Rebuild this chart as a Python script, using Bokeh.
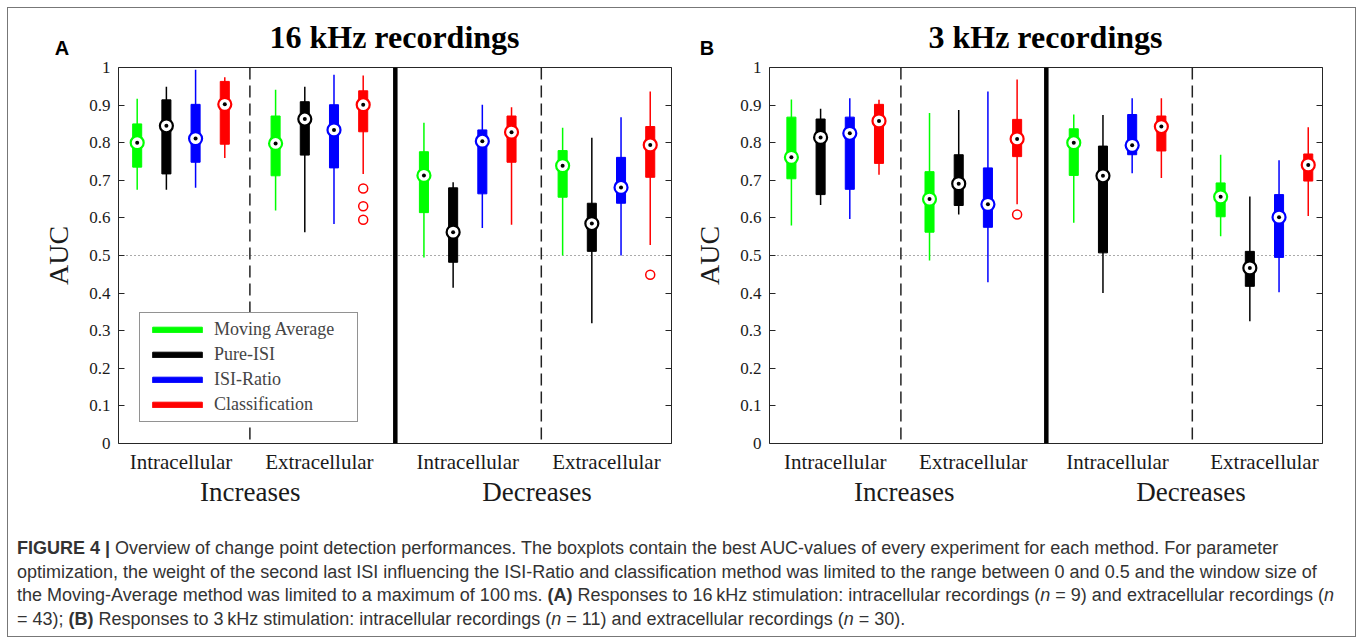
from bokeh.plotting import figure
from bokeh.models import (Range1d, LinearAxis, FixedTicker, CustomJSTickFormatter,
                          Span, Legend, LegendItem, Div, ColumnDataSource)
from bokeh.layouts import row, column
from bokeh.embed import file_html
from bokeh.resources import INLINE

# ---------------- data ----------------
panel_titles = ["16 kHz recordings", "3 kHz recordings"]
panel_letters = ["A", "B"]
methods = ["Moving Average", "Pure-ISI", "ISI-Ratio", "Classification"]
colors = ["#00ff00", "#000000", "#0000ff", "#ff0000"]
group_labels = ["Intracellular", "Extracellular", "Intracellular", "Extracellular"]
condition_labels = ["Increases", "Decreases"]
y_ticks = [0, 0.1, 0.2, 0.3, 0.4, 0.5, 0.6, 0.7, 0.8, 0.9, 1]

# order: group (Intra-Inc, Extra-Inc, Intra-Dec, Extra-Dec) x method
A_whisker_hi = [0.917, 0.949, 0.994, 0.974, 0.941, 0.949, 0.981, 0.979,
                0.853, 0.695, 0.901, 0.894, 0.840, 0.813, 0.868, 0.936]
A_q3 = [0.850, 0.914, 0.902, 0.963, 0.871, 0.909, 0.901, 0.938,
        0.776, 0.680, 0.834, 0.871, 0.779, 0.639, 0.761, 0.843]
A_median = [0.800, 0.845, 0.811, 0.902, 0.798, 0.863, 0.834, 0.901,
            0.713, 0.562, 0.804, 0.828, 0.739, 0.585, 0.681, 0.794]
A_q1 = [0.735, 0.717, 0.748, 0.796, 0.712, 0.767, 0.733, 0.829,
        0.614, 0.482, 0.664, 0.748, 0.655, 0.511, 0.639, 0.708]
A_whisker_lo = [0.675, 0.675, 0.680, 0.759, 0.620, 0.562, 0.584, 0.717,
                0.495, 0.414, 0.573, 0.582, 0.500, 0.320, 0.500, 0.528]
A_outlier_box = [7, 7, 7, 15]
A_outlier_val = [0.678, 0.631, 0.595, 0.449]

B_whisker_hi = [0.915, 0.890, 0.918, 0.914, 0.879, 0.887, 0.936, 0.968,
                0.875, 0.874, 0.918, 0.918, 0.768, 0.657, 0.753, 0.841]
B_q3 = [0.868, 0.863, 0.868, 0.902, 0.723, 0.768, 0.733, 0.862,
        0.837, 0.791, 0.875, 0.871, 0.693, 0.511, 0.662, 0.770]
B_median = [0.761, 0.814, 0.825, 0.858, 0.650, 0.691, 0.636, 0.810,
            0.800, 0.712, 0.793, 0.843, 0.656, 0.467, 0.602, 0.741]
B_q1 = [0.704, 0.662, 0.676, 0.745, 0.562, 0.633, 0.575, 0.763,
        0.713, 0.507, 0.768, 0.778, 0.603, 0.418, 0.495, 0.698]
B_whisker_lo = [0.580, 0.634, 0.597, 0.715, 0.487, 0.609, 0.429, 0.636,
                0.587, 0.400, 0.719, 0.706, 0.551, 0.325, 0.402, 0.605]
B_outlier_box = [7]
B_outlier_val = [0.609]

# ---------------- layout constants ----------------
X_MAX = 553 / 29.2
A_STARTS = [0.64, 5.38, 10.46, 15.21]
B_STARTS = [0.75, 5.48, 10.42, 15.45]
SEPARATORS = [4.5, 14.48]
THICK_SEP = 9.48
SERIF = "Liberation Serif"
AXC = "#262626"
FIG_TOP, FIG_BOTTOM = 12, 70
HEADER_H = 47
TOTAL_W = 1347


def make_panel(whi, q3, med, q1, wlo, out_box, out_val, starts, min_left, min_right, legend):
    p = figure(frame_width=553, frame_height=376, output_backend="svg",
               toolbar_location=None,
               x_range=Range1d(0, X_MAX), y_range=Range1d(0, 1),
               min_border_left=min_left, min_border_right=min_right,
               min_border_top=FIG_TOP, min_border_bottom=FIG_BOTTOM,
               x_axis_location=None, y_axis_location=None)
    p.grid.visible = False
    p.outline_line_color = AXC
    p.outline_line_width = 1
    p.background_fill_color = "white"
    p.border_fill_color = "white"

    xs = [s + k for s in starts for k in range(4)]
    cols = [colors[k] for s in starts for k in range(4)]

    # reference lines
    p.add_layout(Span(location=0.5, dimension="width", line_dash="1 3",
                      line_color="#555555", line_width=1.2, level="underlay"))
    for sx in SEPARATORS:
        p.add_layout(Span(location=sx, dimension="height", line_dash="12 6",
                          line_color="#222222", line_width=1.5, level="underlay"))
    p.add_layout(Span(location=THICK_SEP, dimension="height", line_color="black",
                      line_width=4.5, level="underlay"))

    src = ColumnDataSource(dict(x=xs, whi=whi, wlo=wlo, q1=q1, q3=q3, med=med, c=cols))
    p.segment(x0="x", y0="wlo", x1="x", y1="whi", line_color="c", line_width=1.5, source=src)

    box_renderers = []
    for m in range(4):
        idx = [g * 4 + m for g in range(4)]
        r = p.vbar(x=[xs[i] for i in idx], top=[q3[i] for i in idx],
                   bottom=[q1[i] for i in idx], width=0.31,
                   fill_color=colors[m], line_color=colors[m], line_width=1)
        box_renderers.append(r)

    p.scatter(x="x", y="med", size=13, marker="circle", fill_color="white",
              line_color="c", line_width=2.2, source=src)
    p.scatter(x="x", y="med", size=4, marker="circle", fill_color="black",
              line_color=None, source=src)

    p.scatter(x=[xs[i] for i in out_box], y=out_val, size=9, marker="circle",
              fill_color=None, line_color="#ff0000", line_width=1.5)

    # axes
    yl = LinearAxis(ticker=FixedTicker(ticks=y_ticks),
                    formatter=CustomJSTickFormatter(code="return tick.toFixed(1).replace(/\\.0$/, '')"),
                    axis_label="AUC", major_tick_in=6, major_tick_out=0,
                    minor_tick_line_color=None, axis_line_color=None,
                    major_tick_line_color=AXC,
                    major_label_text_font=SERIF, major_label_text_font_size="17px",
                    major_label_text_color="#1a1a1a",
                    axis_label_text_font=SERIF, axis_label_text_font_size="28px",
                    axis_label_text_font_style="normal", axis_label_text_color="#1a1a1a",
                    major_label_standoff=8, axis_label_standoff=12)
    p.add_layout(yl, "left")
    yr = LinearAxis(ticker=FixedTicker(ticks=y_ticks),
                    formatter=CustomJSTickFormatter(code="return ''"),
                    major_tick_in=6, major_tick_out=0, major_tick_line_color=AXC,
                    axis_line_color=None, minor_tick_line_color=None,
                    major_label_standoff=0)
    p.add_layout(yr, "right")

    centers = [s + 1.5 for s in starts]
    xa1 = LinearAxis(ticker=FixedTicker(ticks=centers),
                     formatter=CustomJSTickFormatter(args=dict(labels=group_labels),
                                                     code="return labels[index]"),
                     major_tick_line_color=None, minor_tick_line_color=None,
                     major_tick_in=0, major_tick_out=0,
                     axis_line_color=None, major_label_text_font=SERIF,
                     major_label_text_font_size="21px", major_label_text_color="#1a1a1a",
                     major_label_standoff=6)
    p.add_layout(xa1, "below")
    cond_centers = [(centers[0] + centers[1]) / 2, (centers[2] + centers[3]) / 2]
    xa2 = LinearAxis(ticker=FixedTicker(ticks=cond_centers),
                     formatter=CustomJSTickFormatter(args=dict(labels=condition_labels),
                                                     code="return labels[index]"),
                     major_tick_line_color=None, minor_tick_line_color=None,
                     major_tick_in=0, major_tick_out=0,
                     axis_line_color=None, major_label_text_font=SERIF,
                     major_label_text_font_size="27px", major_label_text_color="#1a1a1a",
                     major_label_standoff=0)
    p.add_layout(xa2, "below")

    if legend:
        lg = Legend(items=[LegendItem(label=methods[m], renderers=[box_renderers[m]])
                           for m in range(4)],
                    location=(21, 21), glyph_width=62, glyph_height=7,
                    label_text_font=SERIF, label_text_font_size="18px",
                    label_height=20, label_width=137, label_standoff=6,
                    spacing=4, padding=6,
                    margin=0, border_line_color=AXC, border_line_width=1,
                    background_fill_color="white", background_fill_alpha=1)
        p.add_layout(lg)
    return p


pA = make_panel(A_whisker_hi, A_q3, A_median, A_q1, A_whisker_lo,
                A_outlier_box, A_outlier_val, A_STARTS, 110, 20, True)
pB = make_panel(B_whisker_hi, B_q3, B_median, B_q1, B_whisker_lo,
                B_outlier_box, B_outlier_val, B_STARTS, 78, 33, False)

# header with panel titles and panel letters (frame A starts at 110, frame B at 761)
frame_lefts = [110, 761]
letter_centers = [54, 699]
header_parts = []
for k in range(2):
    header_parts.append(
        f"<div style=\"position:absolute;left:{frame_lefts[k]}px;top:11px;width:553px;"
        f"text-align:center;font-family:'Liberation Serif',serif;font-weight:bold;"
        f"font-size:32px;line-height:36px;color:#000;white-space:nowrap;\">{panel_titles[k]}</div>")
    header_parts.append(
        f"<div style=\"position:absolute;left:{letter_centers[k] - 20}px;top:29px;width:40px;"
        f"text-align:center;font-family:'Liberation Sans',Arial,sans-serif;font-weight:bold;"
        f"font-size:20px;line-height:22px;color:#000;\">{panel_letters[k]}</div>")
header_html = (f"<div style=\"position:relative;width:{TOTAL_W}px;height:{HEADER_H}px;\">"
               + "".join(header_parts) + "</div>")
header = Div(text=header_html, width=TOTAL_W, height=HEADER_H, margin=0)

caption_html = (
    "<div style=\"font-family:'Liberation Sans',Arial,sans-serif;font-size:18px;"
    "line-height:23.7px;color:#333;padding:24px 0 0 9px;white-space:nowrap;\">"
    "<b>FIGURE 4 |</b> Overview of change point detection performances. The boxplots contain "
    "the best AUC-values of every experiment for each method. For parameter<br>"
    "optimization, the weight of the second last ISI influencing the ISI-Ratio and "
    "classification method was limited to the range between 0 and 0.5 and the window size of<br>"
    "the Moving-Average method was limited to a maximum of 100&thinsp;ms. <b>(A)</b> Responses "
    "to 16&thinsp;kHz stimulation: intracellular recordings (<i>n</i> = 9) and extracellular "
    "recordings (<i>n</i><br>"
    "= 43); <b>(B)</b> Responses to 3&thinsp;kHz stimulation: intracellular recordings "
    "(<i>n</i> = 11) and extracellular recordings (<i>n</i> = 30)."
    "</div>"
)
cap = Div(text=caption_html, width=TOTAL_W, height=123, margin=0)

layout = column(header, row(pA, pB), cap,
                styles={"border": "1px solid #777777", "margin-left": "7px",
                        "margin-top": "7px"})

open("out.html", "w").write(file_html(layout, INLINE))
